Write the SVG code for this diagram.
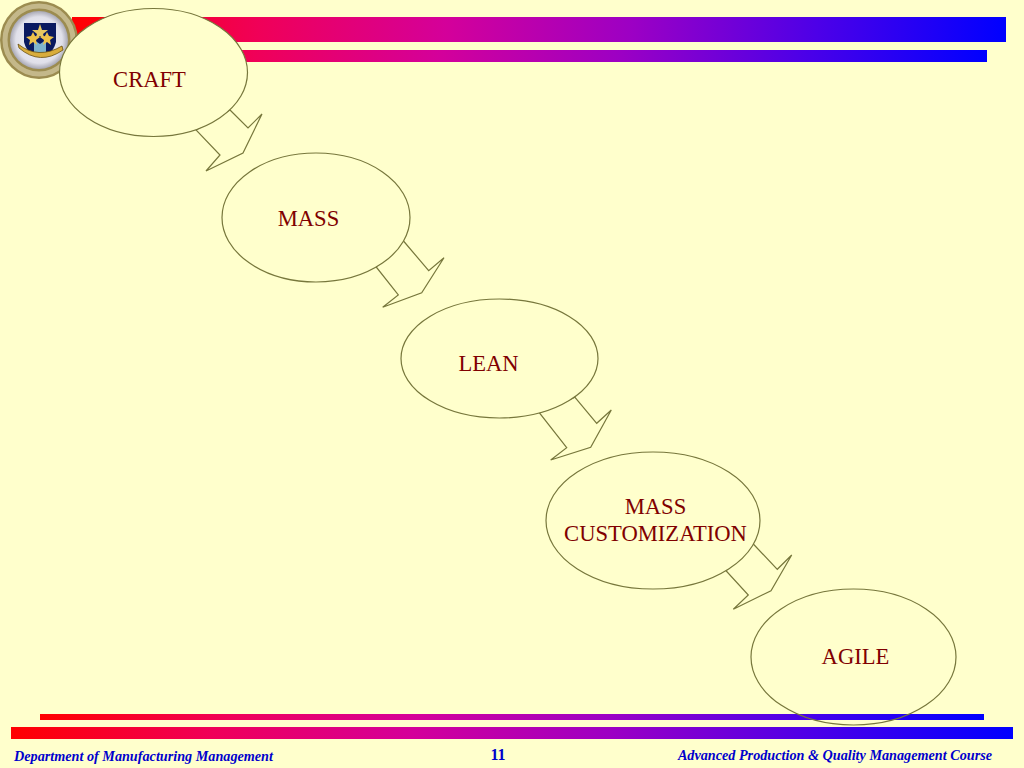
<svg xmlns="http://www.w3.org/2000/svg" width="1024" height="768" viewBox="0 0 1024 768">
<style>
.nd{fill:#ffffcc;stroke:#77773c;stroke-width:1.2}
.op{fill:none;stroke:#77773c;stroke-width:1.2}
.ar{fill:#ffffcc;stroke:#77773c;stroke-width:1.2;stroke-linejoin:miter}
.lb{font-family:"Liberation Serif",serif;font-size:22.6px;fill:#800000;text-anchor:middle}
.ft{font-family:"Liberation Serif",serif;font-weight:bold;fill:#0000cc}
</style>
<defs>
<linearGradient id="g" x1="0" y1="0" x2="1" y2="0"><stop offset="0" stop-color="#ff0000"/><stop offset=".2" stop-color="#f00058"/><stop offset=".4" stop-color="#d4009a"/><stop offset=".6" stop-color="#9c00c4"/><stop offset=".8" stop-color="#4c00e8"/><stop offset="1" stop-color="#0000ff"/></linearGradient>
<radialGradient id="s" cx=".5" cy=".5" r=".5"><stop offset="0" stop-color="#f8f8fa"/><stop offset=".8" stop-color="#e0e0ea"/><stop offset="1" stop-color="#a8a8b4"/></radialGradient>
</defs>
<rect id="background" width="1024" height="768" fill="#ffffcc"/>
<g id="bars" fill="url(#g)">
<rect x="72" y="17" width="934" height="25"/>
<rect x="72" y="50" width="915" height="12"/>
<rect x="40" y="714" width="944" height="6"/>
<rect x="11" y="727" width="1002" height="12"/>
</g>
<g id="logo">
<circle cx="39" cy="40" r="39" fill="#9c8c50"/>
<circle cx="39" cy="40" r="34" fill="none" stroke="#c4b88a" stroke-width="5"/>
<circle cx="39" cy="40" r="29" fill="url(#s)"/>
<path d="M24 23H56V42Q54 50 48 55H32Q26 50 24 42Z" fill="#0a1a60"/>
<path d="M34 40L40 44L46 40V54H34Z" fill="#7fb4cc"/>
<polygon points="40,24 42,30 48,30 43,34 45,40 40,36 35,40 37,34 32,30 38,30" fill="#e8c860"/>
<polygon points="33,32 35,36 40,37 36,40 37,45 33,42 29,45 30,40 26,37 31,36" fill="#eec24a"/>
<polygon points="47,32 49,36 54,37 50,40 51,45 47,42 43,45 44,40 40,37 45,36" fill="#eec24a"/>
<path d="M18 44Q38 60 62 46L63 50Q40 66 19 48Z" fill="#d9ad3c" stroke="#6a5010" stroke-width=".8"/>
</g>
<g id="connectors">
<polygon class="ar" points="230,110 248,128 262,114 243,153 206,171 220,155 196,130"/>
<polygon class="ar" points="403.5,241 428.7,270.7 444,257.7 421.7,292.7 382.7,307.3 398.3,295 376,266.7"/>
<polygon class="ar" points="575,397.3 596.7,423.3 611.3,410 590.7,447.3 550.7,460 566.7,447.7 539.3,412.7"/>
<polygon class="ar" points="753.3,544 777.3,569.3 791.7,555 771,590.7 733.3,609.3 748.3,595 726,570.7"/>
</g>
<g id="craft"><ellipse class="nd" cx="153.5" cy="72.5" rx="94" ry="64"/><text class="lb" x="149.500" y="86.500">CRAFT</text></g>
<g id="mass"><ellipse class="nd" cx="316" cy="217.500" rx="94" ry="64.500"/><text class="lb" x="308.500" y="225.500">MASS</text></g>
<g id="lean"><ellipse class="nd" cx="499.500" cy="358.500" rx="98.500" ry="59.500"/><text class="lb" x="488.500" y="370.500">LEAN</text></g>
<g id="mass-customization"><ellipse class="nd" cx="653" cy="520.500" rx="107" ry="68.500"/><text class="lb" x="655.500" y="513.500">MASS</text><text class="lb" x="655.500" y="540.500">CUSTOMIZATION</text></g>
<g id="agile"><ellipse class="op" cx="853.500" cy="657" rx="102.500" ry="68"/><text class="lb" x="855.500" y="663.500">AGILE</text></g>
<g id="footer">
<text class="ft" x="14" y="761" font-size="14.200" font-style="italic">Department of Manufacturing Management</text>
<text class="ft" x="498" y="760" font-size="16" text-anchor="middle">11</text>
<text class="ft" x="992" y="760" font-size="14.200" font-style="italic" text-anchor="end">Advanced Production &amp; Quality Management Course</text>
</g>
</svg>
